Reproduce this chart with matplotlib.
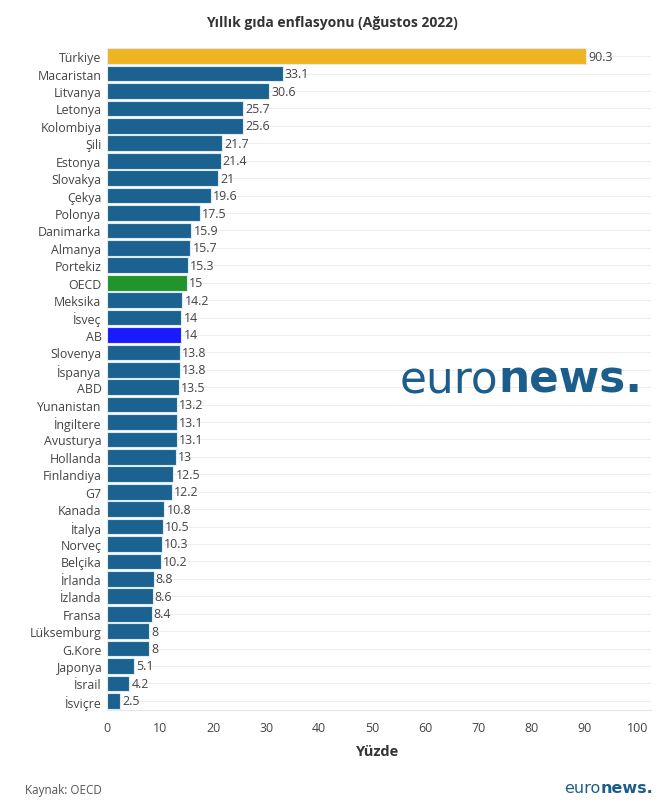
import matplotlib
matplotlib.use("Agg")
import matplotlib.pyplot as plt

countries = ["Türkiye", "Macaristan", "Litvanya", "Letonya", "Kolombiya", "Şili", "Estonya",
             "Slovakya", "Çekya", "Polonya", "Danimarka", "Almanya", "Portekiz", "OECD",
             "Meksika", "İsveç", "AB", "Slovenya", "İspanya", "ABD", "Yunanistan", "İngiltere",
             "Avusturya", "Hollanda", "Finlandiya", "G7", "Kanada", "İtalya", "Norveç",
             "Belçika", "İrlanda", "İzlanda", "Fransa", "Lüksemburg", "G.Kore", "Japonya",
             "İsrail", "İsviçre"]
values = [90.3, 33.1, 30.6, 25.7, 25.6, 21.7, 21.4, 21, 19.6, 17.5, 15.9, 15.7, 15.3, 15,
          14.2, 14, 14, 13.8, 13.8, 13.5, 13.2, 13.1, 13.1, 13, 12.5, 12.2, 10.8, 10.5, 10.3,
          10.2, 8.8, 8.6, 8.4, 8, 8, 5.1, 4.2, 2.5]
labels = ["90.3", "33.1", "30.6", "25.7", "25.6", "21.7", "21.4", "21", "19.6", "17.5", "15.9",
          "15.7", "15.3", "15", "14.2", "14", "14", "13.8", "13.8", "13.5", "13.2", "13.1",
          "13.1", "13", "12.5", "12.2", "10.8", "10.5", "10.3", "10.2", "8.8", "8.6", "8.4",
          "8", "8", "5.1", "4.2", "2.5"]
highlight = {"Türkiye": "#EFB421", "OECD": "#23932B", "AB": "#1A1AFF"}
base_color = "#1C6290"
xticks = [0, 10, 20, 30, 40, 50, 60, 70, 80, 90, 100]

plt.rcParams["font.family"] = ["Open Sans", "DejaVu Sans"]

fig = plt.figure(figsize=(6.64, 8.04), dpi=100)
ax = fig.add_axes([107 / 664, 93.5 / 804, (651 - 107) / 664, (755.5 - 93.5) / 804])

n = len(countries)
ypos = list(range(n))
colors = [highlight.get(c, base_color) for c in countries]
ax.barh(ypos, values, height=0.9, color=colors, edgecolor="#DDEBF5", linewidth=0.8, zorder=3)
for y, v, lab in zip(ypos, values, labels):
    ax.text(v + 0.4, y, lab, va="center", ha="left", fontsize=8.9, color="#444444", zorder=4)

ax.set_ylim(n - 0.5, -0.5)
ax.set_xlim(0, 102.5)
ax.set_yticks(ypos)
ax.set_yticklabels(countries, fontsize=8.9, color="#444444")
ax.set_xticks(xticks)
ax.set_xticklabels([str(t) for t in xticks], fontsize=8.9, color="#444444")
ax.tick_params(axis="both", length=0, pad=4)
ax.tick_params(axis="x", pad=8)
for y in ypos:
    ax.axhline(y, color="#EEEEEE", linewidth=0.8, zorder=1)
ax.grid(False)
for s in ["top", "right", "left"]:
    ax.spines[s].set_visible(False)
ax.spines["bottom"].set_color("#E6E6E6")
ax.spines["bottom"].set_linewidth(0.8)

fig.text(0.5, 1 - 23 / 804, "Yıllık gıda enflasyonu (Ağustos 2022)",
         ha="center", va="center", fontsize=10, fontweight="bold", color="#333333")
fig.text(378 / 664, 1 - 752 / 804, "Yüzde", ha="center", va="center", fontsize=10.5,
         fontweight="bold", color="#333333")
fig.text(25 / 664, 1 - 791 / 804, "Kaynak: OECD", ha="left", va="center", fontsize=8.4,
         color="#555555")

logo_color = "#1B5E8C"
logo_font = ["DejaVu Sans"]
# watermark logo
t1 = fig.text(400 / 664, 1 - 393 / 804, "euro", ha="left", va="baseline", fontsize=31.5,
              family=logo_font, fontweight="normal", color=logo_color)
fig.canvas.draw()
bb = t1.get_window_extent()
fig.text(bb.x1 / 664, 1 - 393 / 804, "news.", ha="left", va="baseline", fontsize=31.5,
         family=logo_font, fontweight="bold", color=logo_color)
# small logo
t2 = fig.text(564 / 664, 1 - 793 / 804, "euro", ha="left", va="baseline", fontsize=11.5,
              family=logo_font, fontweight="normal", color=logo_color)
fig.canvas.draw()
bb2 = t2.get_window_extent()
fig.text(bb2.x1 / 664, 1 - 793 / 804, "news.", ha="left", va="baseline", fontsize=11.5,
         family=logo_font, fontweight="bold", color=logo_color)

fig.savefig("out.png", dpi=100)
